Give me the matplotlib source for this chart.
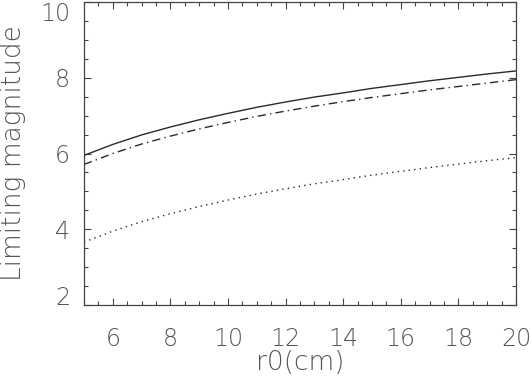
import matplotlib
matplotlib.use("Agg")
import matplotlib.pyplot as plt
from matplotlib.ticker import MultipleLocator

# r0 in cm, limiting magnitude for three cases
r0 = [5, 6, 7, 8, 9, 10, 11, 12, 13, 14, 15, 16, 17, 18, 19, 20]
mag_solid = [5.95, 6.24, 6.49, 6.70, 6.89, 7.06, 7.22, 7.36,
             7.49, 7.60, 7.72, 7.82, 7.92, 8.01, 8.10, 8.18]
mag_dashdot = [5.71, 6.00, 6.25, 6.46, 6.65, 6.82, 6.98, 7.12,
               7.25, 7.37, 7.48, 7.58, 7.68, 7.77, 7.86, 7.95]
mag_dotted = [3.66, 3.95, 4.20, 4.41, 4.60, 4.77, 4.93, 5.07,
              5.20, 5.31, 5.43, 5.53, 5.63, 5.72, 5.81, 5.89]

TEXT = "#555555"
LINE = "#2a2a2a"
THIN = 200  # DejaVu Sans ExtraLight, closest to the thin IDL vector font

plt.rcParams["font.family"] = ["DejaVu Sans"]

fig = plt.figure(figsize=(5.31, 3.83), dpi=100)
ax = fig.add_axes([84 / 531, 1 - 305 / 383, 432 / 531, 303 / 383])

ax.plot(r0, mag_solid, color=LINE, linewidth=1.0, linestyle="-")
ax.plot(r0, mag_dashdot, color=LINE, linewidth=1.0,
        linestyle=(0, (6, 3, 1, 3)))
ax.plot(r0, mag_dotted, color=LINE, linewidth=1.0,
        linestyle=(0, (1, 3)))

ax.set_xlim(5, 20)
ax.set_ylim(2, 10)
ax.xaxis.set_major_locator(MultipleLocator(2))
ax.xaxis.set_minor_locator(MultipleLocator(0.5))
ax.yaxis.set_major_locator(MultipleLocator(2))
ax.yaxis.set_minor_locator(MultipleLocator(0.5))
ax.set_xticks([6, 8, 10, 12, 14, 16, 18, 20])

ax.tick_params(which="both", direction="in", top=True, right=True,
               color="#444444", width=0.8)
ax.tick_params(which="major", length=5)
ax.tick_params(which="minor", length=3)
ax.tick_params(axis="x", which="major", pad=16, labelsize=17,
               labelcolor=TEXT)
ax.tick_params(axis="y", which="major", pad=10, labelsize=17,
               labelcolor=TEXT)
for s in ax.spines.values():
    s.set_color("#444444")
    s.set_linewidth(0.9)

fig.canvas.draw()
for lab in ax.get_xticklabels() + ax.get_yticklabels():
    lab.set_fontweight(THIN)
# keep the end labels of the y axis inside the frame, as in the original
for lab in ax.get_yticklabels():
    if lab.get_text() == "10":
        lab.set_verticalalignment("top")
    elif lab.get_text() == "2":
        lab.set_verticalalignment("baseline")

ax.set_xlabel("r0(cm)", fontsize=19, color=TEXT, fontweight=THIN,
              labelpad=-1)
ax.set_ylabel("Limiting magnitude", fontsize=19, color=TEXT,
              fontweight=THIN, labelpad=10)

fig.savefig("out.png", dpi=100)
